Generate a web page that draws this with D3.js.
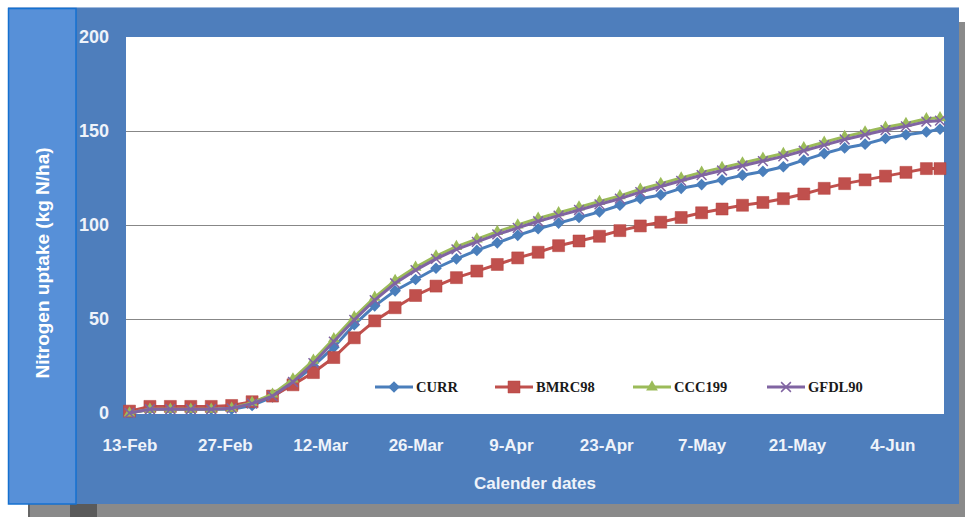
<!DOCTYPE html>
<html>
<head>
<meta charset="utf-8">
<script src="https://cdn.jsdelivr.net/npm/d3@7"></script>
<style>
  body { margin: 0; background: #fff; }
  #chart { width: 965px; height: 517px; }
</style>
</head>
<body>
<div id="chart"></div>
<script>
// sample dates (every 3 days, 2000 season - leap year)
const dates = ['13-Feb','16-Feb','19-Feb','22-Feb','25-Feb','28-Feb','2-Mar','5-Mar','8-Mar','11-Mar',
  '14-Mar','17-Mar','20-Mar','23-Mar','26-Mar','29-Mar','1-Apr','4-Apr','7-Apr','10-Apr',
  '13-Apr','16-Apr','19-Apr','22-Apr','25-Apr','28-Apr','1-May','4-May','7-May','10-May',
  '13-May','16-May','19-May','22-May','25-May','28-May','31-May','3-Jun','6-Jun','9-Jun','11-Jun'];

const seriesNames = ['CURR', 'BMRC98', 'CCC199', 'GFDL90'];

const currValues = [0, 2, 2, 2, 2, 2, 4, 8.5, 16, 25,
  35, 47, 57, 65, 71, 77, 82, 86.5, 90.5, 94.5,
  98, 101, 104, 107, 110.5, 114, 116, 119.5, 121.5, 124,
  126.5, 128.5, 131, 134.5, 138, 141, 143, 146, 148, 149.5, 151];

const bmrc98Values = [1, 3.5, 3.5, 3.5, 3.5, 4, 6, 9, 15, 21.5,
  29.5, 40, 49, 56, 62.5, 67.5, 72, 75.5, 79, 82.5,
  85.5, 89, 91.5, 94, 97, 99.5, 101.5, 104, 106.5, 108.5,
  110.5, 112, 114, 116.5, 119.5, 122, 124, 126, 128, 130, 130];

const ccc199Values = [0, 2, 2, 2, 2, 2.5, 5.5, 10, 18, 28,
  39.5, 51, 61.5, 70.5, 77.5, 83.5, 88.5, 92.5, 96.5, 100,
  103.5, 106.5, 109.5, 112.5, 115.5, 119, 122, 125, 128, 130.5,
  133, 135.5, 138, 141, 144, 147, 149.5, 152, 154, 156.5, 157];

const gfdl90Values = [0, 2, 2, 2, 2, 2.5, 5, 9, 16.5, 26.5,
  38, 49.5, 60, 69, 76, 82, 87, 91, 95, 98.5,
  102, 105, 108, 111, 114, 117.5, 120.5, 123.5, 126.5, 129,
  131.5, 134, 136.5, 139.5, 142.5, 145.5, 148, 150.5, 152.5, 155, 155.5];

const xTickLabels = ['13-Feb','27-Feb','12-Mar','26-Mar','9-Apr','23-Apr','7-May','21-May','4-Jun'];
const yTicks = [0, 50, 100, 150, 200];

const nitrogenChart = (() => {
  let $svg, $plot;

  const width = 965, height = 517;
  const plot = {left: 126, right: 944, top: 37, bottom: 414};

  const parseDate = s => d3.timeParse('%d-%b-%Y')(s + '-2000');

  // Excel 2007 palette
  const styles = {
    CURR:   {color: '#4a7ebb', marker: 'diamond'},
    BMRC98: {color: '#c0504d', marker: 'square'},
    CCC199: {color: '#9bbb59', marker: 'triangle'},
    GFDL90: {color: '#8064a2', marker: 'x'},
  };
  const legendX = [375, 495, 633, 767];

  const init = (el) => {
    const values = [currValues, bmrc98Values, ccc199Values, gfdl90Values];
    const series = seriesNames.map((name, i) => ({
      name: name,
      points: dates.map((d, j) => ({date: parseDate(d), value: values[i][j]})),
    }));
    draw(el, series);
  };

  function addMarker(g, type, color) {
    if (type === 'diamond') {
      g.append('path').attr('d', d3.symbol(d3.symbolSquare, 68)())
        .attr('transform', 'rotate(45)').attr('fill', color);
    } else if (type === 'square') {
      g.append('path').attr('d', d3.symbol(d3.symbolSquare, 144)())
        .attr('fill', color).attr('stroke', '#b5403d').attr('stroke-width', 0.5);
    } else if (type === 'triangle') {
      g.append('path').attr('d', d3.symbol(d3.symbolTriangle, 60)())
        .attr('fill', color);
    } else {
      g.append('path').attr('d', d3.symbol(d3.symbolX, 64)())
        .attr('fill', 'none').attr('stroke', color).attr('stroke-width', 1.5);
    }
  }

  function draw(el, series) {
    $svg = d3.select(el).append('svg')
      .attr('width', width)
      .attr('height', height);

    // drop shadow
    $svg.append('rect').attr('x', 959).attr('y', 22).attr('width', 6).attr('height', 495).attr('fill', '#8a8a8a');
    $svg.append('rect').attr('x', 28).attr('y', 504).attr('width', 937).attr('height', 13).attr('fill', '#8a8a8a');
    $svg.append('rect').attr('x', 70).attr('y', 504).attr('width', 27).attr('height', 13).attr('fill', '#5a5a5a');
    $svg.append('rect').attr('x', 28).attr('y', 504).attr('width', 2).attr('height', 13).attr('fill', '#666');

    // chart panel
    $svg.append('rect').attr('x', 8).attr('y', 7).attr('width', 951).attr('height', 497).attr('fill', '#4e7ebc');
    $svg.append('line').attr('x1', 8).attr('x2', 959).attr('y1', 7.5).attr('y2', 7.5)
      .attr('stroke', '#9fb9dc').attr('stroke-width', 1);

    // plot area
    $svg.append('rect')
      .attr('x', plot.left).attr('y', plot.top)
      .attr('width', plot.right - plot.left).attr('height', plot.bottom - plot.top)
      .attr('fill', '#fff');

    // left title box
    $svg.append('rect').attr('x', 8.5).attr('y', 8.5).attr('width', 67.5).attr('height', 495.5)
      .attr('fill', '#5790d8').attr('stroke', '#1570d0').attr('stroke-width', 1.5);

    const x = d3.scaleTime()
      .domain([parseDate('13-Feb'), parseDate('11-Jun')])
      .range([129.5, 940]);
    const y = d3.scaleLinear()
      .domain([0, 200])
      .range([413, plot.top]);

    $plot = $svg.append('g');

    // gridlines
    $plot.selectAll('line.grid')
      .data(yTicks.filter(t => t > 0 && t < 200))
      .enter().append('line')
      .attr('class', 'grid')
      .attr('x1', plot.left).attr('x2', plot.right)
      .attr('y1', d => Math.round(y(d)) + 0.5).attr('y2', d => Math.round(y(d)) + 0.5)
      .attr('stroke', '#878787').attr('stroke-width', 1);

    // axes
    const xAxis = d3.axisBottom(x)
      .tickValues(xTickLabels.map(parseDate))
      .tickFormat(d3.timeFormat('%-d-%b'))
      .tickSize(0)
      .tickPadding(26);
    const $xAxis = $svg.append('g').attr('transform', 'translate(0,413)').call(xAxis);
    $xAxis.select('.domain').remove();
    $xAxis.selectAll('text')
      .attr('fill', '#eef3fa')
      .style('font', 'bold 17px "Liberation Sans", Arial, sans-serif');

    const yAxis = d3.axisLeft(y).tickValues(yTicks).tickSize(0).tickPadding(17);
    const $yAxis = $svg.append('g').attr('transform', `translate(${plot.left},0)`).call(yAxis);
    $yAxis.select('.domain').remove();
    $yAxis.selectAll('text')
      .attr('fill', '#eef3fa')
      .style('font', 'bold 18px "Liberation Sans", Arial, sans-serif');

    // axis titles
    $svg.append('text')
      .attr('x', 535).attr('y', 489)
      .attr('text-anchor', 'middle')
      .attr('fill', '#eef3fa')
      .style('font', 'bold 17px "Liberation Sans", Arial, sans-serif')
      .text('Calender dates');

    $svg.append('text')
      .attr('transform', 'translate(49,263) rotate(-90)')
      .attr('text-anchor', 'middle')
      .attr('fill', '#ffffff')
      .style('font', 'bold 19px "Liberation Sans", Arial, sans-serif')
      .text('Nitrogen uptake (kg N/ha)');

    // series lines + markers
    const line = d3.line()
      .x(d => x(d.date))
      .y(d => y(d.value));

    series.forEach(s => {
      const st = styles[s.name];
      const $g = $plot.append('g').attr('class', 'series');
      $g.append('path')
        .datum(s.points)
        .attr('d', line)
        .attr('fill', 'none')
        .attr('stroke', st.color)
        .attr('stroke-width', 3)
        .attr('stroke-linejoin', 'round');
      $g.selectAll('g.pt')
        .data(s.points)
        .enter().append('g')
        .attr('class', 'pt')
        .attr('transform', d => `translate(${x(d.date)},${y(d.value)})`)
        .each(function() { addMarker(d3.select(this), st.marker, st.color); });
    });

    // legend
    const $legend = $svg.append('g').attr('transform', 'translate(0,387)');
    const $item = $legend.selectAll('g.item')
      .data(seriesNames)
      .enter().append('g')
      .attr('class', 'item')
      .attr('transform', (d, i) => `translate(${legendX[i]},0)`);
    $item.append('line')
      .attr('x1', 0).attr('x2', 38)
      .attr('stroke', d => styles[d].color)
      .attr('stroke-width', 3);
    $item.append('g')
      .attr('transform', 'translate(19,0)')
      .each(function(d) { addMarker(d3.select(this), styles[d].marker, styles[d].color); });
    $item.append('text')
      .attr('x', 41).attr('dy', '0.35em')
      .attr('fill', '#1a1a1a')
      .style('font', 'bold 14.5px "Liberation Serif", "Times New Roman", serif')
      .text(d => d);
  }

  return {
    init: init,
  };
})();

nitrogenChart.init(document.getElementById('chart'));
</script>
</body>
</html>
